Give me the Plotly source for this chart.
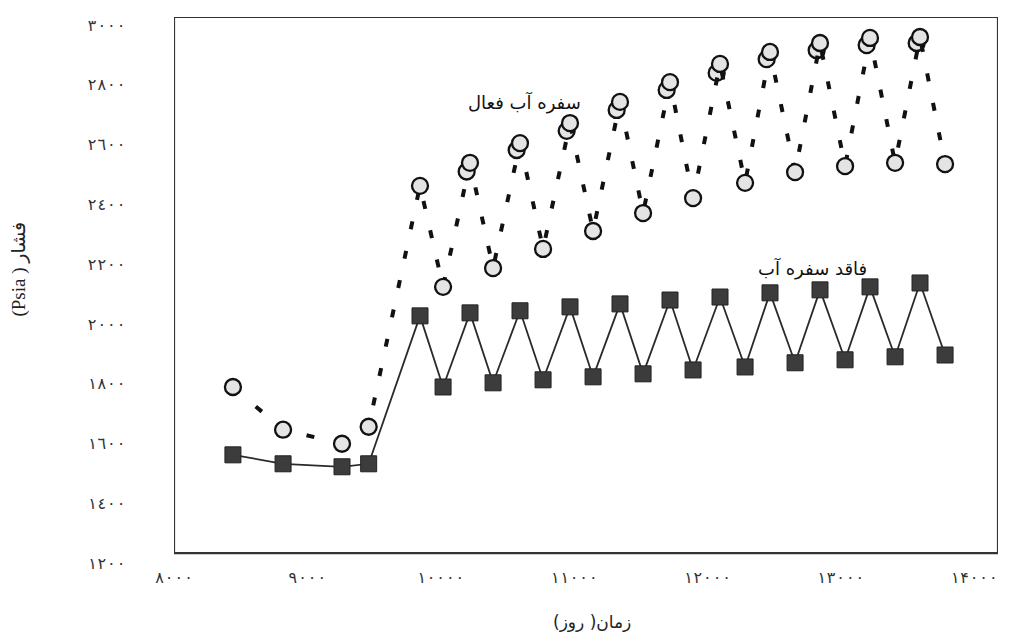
import plotly.graph_objects as go

# ---- data ----
days = [8442, 8818, 9260, 9460,
        9845, 10018, 10220, 10393, 10595, 10768, 10970, 11143, 11345, 11518,
        11720, 11893, 12095, 12283, 12470, 12658, 12845, 13033, 13220, 13408,
        13595, 13783]

p_no_aquifer = [1562, 1532, 1522, 1532,
                2027, 1789, 2037, 1803, 2044, 1813, 2057, 1823, 2067, 1833,
                2080, 1846, 2090, 1856, 2104, 1870, 2114, 1880, 2124, 1890,
                2137, 1896]

p_active_aquifer = [1789, 1646, 1599, 1656,
                    2462, 2124, 2539, 2187, 2605, 2251, 2672, 2311, 2743, 2371,
                    2809, 2421, 2870, 2472, 2910, 2508, 2940, 2528, 2957, 2539,
                    2960, 2535]

# second (overlapping) circles near each peak
days_active_b = [10195, 10570, 10945, 11320, 11695, 12070, 12445, 12820, 13195, 13570]
p_active_b = [2510, 2582, 2646, 2716, 2783, 2840, 2886, 2916, 2933, 2940]

x_tick_vals = [8000, 9000, 10000, 11000, 12000, 13000, 14000]
x_tick_text = ["٨٠٠٠", "٩٠٠٠", "١٠٠٠٠", "١١٠٠٠", "١٢٠٠٠", "١٣٠٠٠", "١۴٠٠٠"]
y_tick_vals = [1200, 1400, 1600, 1800, 2000, 2200, 2400, 2600, 2800, 3000]
y_tick_text = ["١٢٠٠", "١٤٠٠", "١٦٠٠", "١٨٠٠", "٢٠٠٠", "٢٢٠٠", "٢٤٠٠", "٢٦٠٠", "٢٨٠٠", "٣٠٠٠"]

label_active = "سفره آب فعال"
label_none = "فاقد سفره آب"
x_title = "زمان( روز)\u200f"
y_title = "(Psia ) فشار"

X_RANGE = [8000, 14180]
Y_RANGE = [1190, 3027]
FRAME_Y0 = 1233

fig = go.Figure()

fig.add_trace(go.Scatter(
    x=days, y=p_no_aquifer, mode="lines+markers", name=label_none,
    line=dict(color="#2a2a2a", width=1.8),
    marker=dict(symbol="square", size=16, color="#3c3c3c",
                line=dict(color="#222222", width=1)),
))

fig.add_trace(go.Scatter(
    x=days_active_b, y=p_active_b, mode="markers", showlegend=False,
    marker=dict(symbol="circle", size=16, color="#e4e4e4",
                line=dict(color="#111111", width=2.3)),
))

fig.add_trace(go.Scatter(
    x=days, y=p_active_aquifer, mode="lines+markers", name=label_active,
    line=dict(color="#111111", width=4, dash="8px,22px"),
    marker=dict(symbol="circle", size=16, color="#e4e4e4",
                line=dict(color="#111111", width=2.3)),
))

fig.add_shape(type="rect", xref="x", yref="y",
              x0=X_RANGE[0], x1=X_RANGE[1], y0=FRAME_Y0, y1=Y_RANGE[1],
              line=dict(color="#333333", width=2.2), layer="below")

tick_font = dict(family="DejaVu Sans Mono, DejaVu Sans", size=16, color="#333333")

fig.update_xaxes(range=X_RANGE, tickvals=x_tick_vals, ticktext=x_tick_text,
                 showgrid=False, zeroline=False, showline=False,
                 ticks="", tickfont=tick_font)
fig.update_yaxes(range=Y_RANGE, tickvals=y_tick_vals, ticktext=y_tick_text,
                 showgrid=False, zeroline=False, showline=False,
                 ticks="outside", ticklen=44, tickcolor="rgba(0,0,0,0)",
                 tickfont=tick_font)

ann_font = dict(family="DejaVu Sans", size=18, color="#111111")
fig.add_annotation(x=10630, y=2740, xref="x", yref="y", text=label_active,
                   showarrow=False, font=ann_font)
fig.add_annotation(x=12790, y=2185, xref="x", yref="y", text=label_none,
                   showarrow=False, font=ann_font)

fig.add_annotation(x=-0.205, y=0.54, xref="paper", yref="paper", text=y_title,
                   textangle=-90, showarrow=False,
                   font=dict(family="Liberation Serif, DejaVu Sans", size=19, color="#222222"))
fig.add_annotation(x=0.507, y=-0.123, xref="paper", yref="paper", text=x_title,
                   showarrow=False,
                   font=dict(family="DejaVu Sans", size=17, color="#222222"))

# page body has an 8px margin, so the figure is made 8px smaller on each axis
fig.update_layout(
    width=1019, height=629,
    margin=dict(l=166, r=29, t=9, b=71),
    paper_bgcolor="white", plot_bgcolor="white",
    showlegend=False,
)

fig.write_html("out.html")
